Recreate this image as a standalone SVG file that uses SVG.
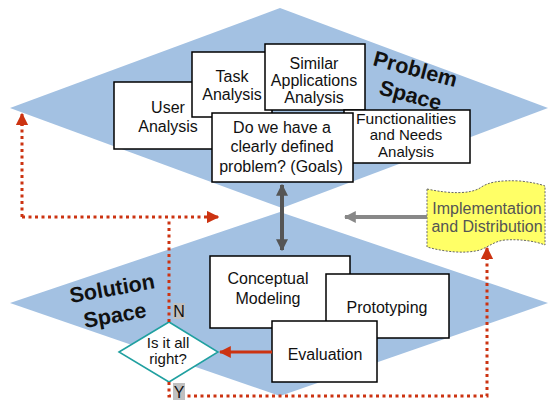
<svg xmlns="http://www.w3.org/2000/svg" width="548" height="400" viewBox="0 0 548 400">
  <defs>
    <style>
      .space { fill: #a3c1e2; }
      .box { fill: #ffffff; stroke: #000000; stroke-width: 1.5; }
      .txt { font-family: "Liberation Sans", Arial, sans-serif; font-size: 16px; fill: #111111; text-anchor: middle; }
      .title { font-family: "Liberation Sans", Arial, sans-serif; font-size: 21.5px; font-weight: bold; fill: #111111; }
      .dotted { fill: none; stroke: #cc3311; stroke-width: 3; stroke-dasharray: 3 3.5; }
      .tag { fill: #c0c0c0; }
    </style>
    <marker id="redHead" viewBox="0 0 10 10" refX="9" refY="5" markerWidth="4.2" markerHeight="4.2" orient="auto" markerUnits="strokeWidth">
      <path d="M0,0 L10,5 L0,10 Z" fill="#cc3311"/>
    </marker>
    <marker id="redHeadSolid" viewBox="0 0 10 10" refX="9" refY="5" markerWidth="4" markerHeight="4" orient="auto" markerUnits="strokeWidth">
      <path d="M0,0 L10,5 L0,10 Z" fill="#cc3311"/>
    </marker>
    <marker id="grayHead" viewBox="0 0 10 10" refX="9" refY="5" markerWidth="3" markerHeight="3" orient="auto-start-reverse" markerUnits="strokeWidth">
      <path d="M0,0 L10,5 L0,10 Z" fill="#555555"/>
    </marker>
    <marker id="lightGrayHead" viewBox="0 0 10 10" refX="9" refY="5" markerWidth="3" markerHeight="3" orient="auto" markerUnits="strokeWidth">
      <path d="M0,0 L10,5 L0,10 Z" fill="#888888"/>
    </marker>
  </defs>

  <rect width="548" height="400" fill="#ffffff"/>

  <!-- the two spaces -->
  <g id="problem-space">
    <polygon class="space" points="10,108 280,8 548,108 282,208"/>
    <text class="title" transform="translate(372,65) rotate(15)">Problem</text>
    <text class="title" transform="translate(378,94) rotate(15)">Space</text>
  </g>
  <g id="solution-space">
    <polygon class="space" points="10,303 280,212 548,303 280,396"/>
    <text class="title" transform="translate(71,303) rotate(-10)">Solution</text>
    <text class="title" transform="translate(85,328) rotate(-10)">Space</text>
  </g>

  <!-- problem space activities -->
  <g id="user-analysis">
    <rect class="box" x="114" y="82" width="110" height="67"/>
    <text class="txt" x="168" y="113">User</text>
    <text class="txt" x="168" y="132">Analysis</text>
  </g>
  <g id="task-analysis">
    <rect class="box" x="192" y="52" width="80" height="65"/>
    <text class="txt" x="232" y="82">Task</text>
    <text class="txt" x="232" y="100">Analysis</text>
  </g>
  <g id="similar-applications">
    <rect class="box" x="265" y="44" width="100" height="66"/>
    <text class="txt" x="314" y="69">Similar</text>
    <text class="txt" x="314" y="86">Applications</text>
    <text class="txt" x="314" y="103">Analysis</text>
  </g>
  <g id="functionalities">
    <rect class="box" x="344" y="110" width="126" height="53"/>
    <text class="txt" x="406" y="124" style="font-size:15px" textLength="100" lengthAdjust="spacingAndGlyphs">Functionalities</text>
    <text class="txt" x="406" y="140" style="font-size:15px">and Needs</text>
    <text class="txt" x="406" y="157" style="font-size:15px">Analysis</text>
  </g>
  <g id="goals">
    <rect class="box" x="212" y="113" width="141" height="69"/>
    <text class="txt" x="282" y="133">Do we have a</text>
    <text class="txt" x="282" y="152">clearly defined</text>
    <text class="txt" x="281" y="172">problem? (Goals)</text>
  </g>

  <!-- solution space activities -->
  <g id="conceptual-modeling">
    <rect class="box" x="210" y="256" width="140" height="72"/>
    <text class="txt" x="268" y="284">Conceptual</text>
    <text class="txt" x="268" y="304">Modeling</text>
  </g>
  <g id="prototyping">
    <rect class="box" x="326" y="274" width="123" height="64"/>
    <text class="txt" x="387" y="313">Prototyping</text>
  </g>
  <g id="evaluation">
    <rect class="box" x="272" y="321" width="105" height="61"/>
    <text class="txt" x="325" y="360">Evaluation</text>
  </g>

  <g id="decision">
    <polygon points="119,352 169,322 218,352 169,382" fill="#ffffff" stroke="#20a0a0" stroke-width="1.5"/>
    <text class="txt" x="168" y="348" style="font-size:15px">Is it all</text>
    <text class="txt" x="168" y="364" style="font-size:15px">right?</text>
  </g>

  <g id="implementation">
    <path d="M427,189 C450,194 470,194 480,188 C488,182 500,180 520,181 C530,182 540,184 545,186 L545,245 C535,241 520,239 505,240 C495,241 490,246 480,250 C465,254 445,252 427,247 Z" fill="#ffff66" stroke="#666666" stroke-width="1" stroke-dasharray="2 1.5"/>
    <text class="txt" x="487" y="214" style="fill:#555555">Implementation</text>
    <text class="txt" x="487" y="232" style="fill:#555555">and Distribution</text>
  </g>

  <!-- connectors -->
  <g id="connectors">
    <line x1="282" y1="185" x2="282" y2="250" stroke="#555555" stroke-width="4" marker-start="url(#grayHead)" marker-end="url(#grayHead)"/>
    <line x1="427" y1="217" x2="345" y2="217" stroke="#888888" stroke-width="4" marker-end="url(#lightGrayHead)"/>
    <line x1="272" y1="352" x2="220" y2="352" stroke="#cc3311" stroke-width="3" marker-end="url(#redHeadSolid)"/>
    <path class="dotted" d="M169,322 L169,218 M22,217 L214,217" />
    <line x1="214" y1="217" x2="218" y2="217" stroke="#cc3311" stroke-width="3" marker-end="url(#redHead)"/>
    <path class="dotted" d="M22,217 L22,124"/>
    <line x1="22" y1="126" x2="22" y2="114" stroke="#cc3311" stroke-width="3" marker-end="url(#redHead)"/>
    <path class="dotted" d="M169,382 L169,396 L487,396 L487,258"/>
    <line x1="487" y1="260" x2="487" y2="248" stroke="#cc3311" stroke-width="3" marker-end="url(#redHead)"/>
  </g>

  <!-- decision outcome tags -->
  <g id="tag-n">
    <rect class="tag" x="173" y="303" width="12" height="16"/>
    <text class="txt" x="179" y="317">N</text>
  </g>
  <g id="tag-y">
    <rect class="tag" x="173" y="383" width="12" height="17"/>
    <text class="txt" x="179" y="398">Y</text>
  </g>
</svg>
